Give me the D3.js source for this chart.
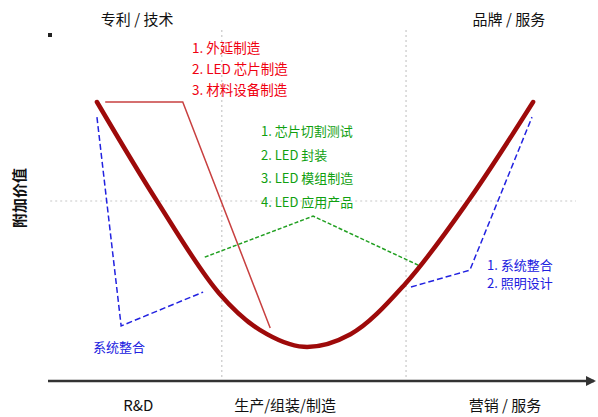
<!DOCTYPE html>
<html>
<head>
<meta charset="utf-8">
<script src="https://cdn.jsdelivr.net/npm/d3@7"></script>
<style>
  html, body { margin: 0; padding: 0; background: #fff; }
  svg { display: block; font-family: "Noto Sans CJK SC", "Noto Sans", sans-serif; }
</style>
</head>
<body>
<svg id="chart" width="598" height="417"></svg>
<script>
// Value-chain stages along the horizontal axis
const stageLabels = ["R&D", "生产/组装/制造", "营销 / 服务"];
const stageCenters = [16.4, 43.1, 83.1];
const stageDividers = [31.6, 65.1];
const topLabels = ["专利 / 技术", "品牌 / 服务"];
const topCenters = [16.2, 83.8];
const midLevel = 50;

// Smile curve: added value across the chain
const curveX = [8.9, 19.8, 31.1, 38.5, 46.5, 55.0, 64.9, 76.4, 88.2];
const curveY = [77.5, 50.0, 24.4, 14.2, 9.5, 13.0, 26.9, 50.0, 77.5];

// Upstream (red), midstream (green), downstream (blue) segments
const redX = [10.4, 24.5, 40.4];
const redY = [77.5, 77.5, 14.7];
const greenX = [28.5, 48.2, 67.3];
const greenY = [34.4, 45.8, 32.2];
const blueLeftX = [8.9, 13.3, 28.2];
const blueLeftY = [73.3, 15.3, 24.7];
const blueRightX = [66.0, 76.7, 88.0];
const blueRightY = [26.1, 30.8, 73.3];

const redItems = ["1. 外延制造", "2. LED 芯片制造", "3. 材料设备制造"];
const greenItems = ["1. 芯片切割测试", "2. LED 封装", "3. LED 模组制造", "4. LED 应用产品"];
const blueItems = ["1. 系统整合", "2. 照明设计"];
const blueLeftLabel = "系统整合";
const yTitle = "附加价值";

const svg = d3.select("#chart");
const x = d3.scaleLinear().domain([0, 100]).range([48, 598]);
const y = d3.scaleLinear().domain([0, 100]).range([381, 21]);

const zip = (xs, ys) => xs.map((v, i) => [v, ys[i]]);

// Dotted guides
svg.selectAll("line.vguide").data(stageDividers).join("line")
  .attr("class", "vguide")
  .attr("x1", d => x(d)).attr("x2", d => x(d))
  .attr("y1", 30).attr("y2", y(0))
  .attr("stroke", "#c8c8c8").attr("stroke-width", 1.2)
  .attr("stroke-dasharray", "2,3");
svg.append("line")
  .attr("x1", x(0.4)).attr("x2", x(96))
  .attr("y1", y(midLevel)).attr("y2", y(midLevel))
  .attr("stroke", "#c8c8c8").attr("stroke-width", 1.2)
  .attr("stroke-dasharray", "2,3");

// Horizontal axis with arrow
svg.append("defs").append("marker")
  .attr("id", "arrow").attr("viewBox", "0 0 10 10")
  .attr("refX", 8).attr("refY", 5)
  .attr("markerWidth", 4).attr("markerHeight", 4)
  .attr("orient", "auto")
  .append("path").attr("d", "M0,0 L10,5 L0,10 z").attr("fill", "#333");
svg.append("line")
  .attr("x1", x(0)).attr("x2", 594)
  .attr("y1", y(0)).attr("y2", y(0))
  .attr("stroke", "#333").attr("stroke-width", 2.5)
  .attr("marker-end", "url(#arrow)");
// Vertical axis tip
svg.append("rect").attr("x", 48).attr("y", 33).attr("width", 4).attr("height", 4).attr("fill", "#222");

const line = d3.line().x(d => x(d[0])).y(d => y(d[1]));

svg.append("path").datum(zip(redX, redY))
  .attr("d", line).attr("fill", "none")
  .attr("stroke", "#c84040").attr("stroke-width", 1.5);
svg.append("path").datum(zip(greenX, greenY))
  .attr("d", line).attr("fill", "none")
  .attr("stroke", "#22a022").attr("stroke-width", 1.5)
  .attr("stroke-dasharray", "4,2");
svg.append("path").datum(zip(blueLeftX, blueLeftY))
  .attr("d", line).attr("fill", "none")
  .attr("stroke", "#2222e0").attr("stroke-width", 1.5)
  .attr("stroke-dasharray", "6,3");
svg.append("path").datum(zip(blueRightX, blueRightY))
  .attr("d", line).attr("fill", "none")
  .attr("stroke", "#2222e0").attr("stroke-width", 1.5)
  .attr("stroke-dasharray", "6,3");

// Smile curve
svg.append("path").datum(zip(curveX, curveY))
  .attr("d", line.curve(d3.curveCatmullRom.alpha(0.5)))
  .attr("fill", "none")
  .attr("stroke", "#9e0a0a").attr("stroke-width", 4.5)
  .attr("stroke-linecap", "round");

// Labels
svg.selectAll("text.top").data(topLabels).join("text")
  .attr("class", "top")
  .attr("x", (d, i) => x(topCenters[i])).attr("y", 25)
  .attr("text-anchor", "middle").attr("font-size", 15).attr("fill", "#111")
  .text(d => d);
svg.selectAll("text.stage").data(stageLabels).join("text")
  .attr("class", "stage")
  .attr("x", (d, i) => x(stageCenters[i])).attr("y", 411)
  .attr("text-anchor", "middle").attr("font-size", 15).attr("fill", "#111")
  .text(d => d);
svg.append("text")
  .attr("transform", "translate(25,198) rotate(-90)")
  .attr("text-anchor", "middle").attr("font-size", 15)
  .attr("font-weight", "bold").attr("fill", "#111")
  .text(yTitle);

svg.selectAll("text.red").data(redItems).join("text")
  .attr("class", "red")
  .attr("x", 192).attr("y", (d, i) => 53 + i * 21)
  .attr("font-size", 13.5).attr("fill", "#f00010")
  .text(d => d);
svg.selectAll("text.green").data(greenItems).join("text")
  .attr("class", "green")
  .attr("x", 261).attr("y", (d, i) => 136 + i * 23.5)
  .attr("font-size", 13).attr("fill", "#10a010")
  .text(d => d);
svg.selectAll("text.blue").data(blueItems).join("text")
  .attr("class", "blue")
  .attr("x", 487).attr("y", (d, i) => 270 + i * 18)
  .attr("font-size", 13).attr("fill", "#2020e0")
  .text(d => d);
svg.append("text")
  .attr("x", 93).attr("y", 352)
  .attr("font-size", 13).attr("fill", "#2020e0")
  .text(blueLeftLabel);
</script>
</body>
</html>
